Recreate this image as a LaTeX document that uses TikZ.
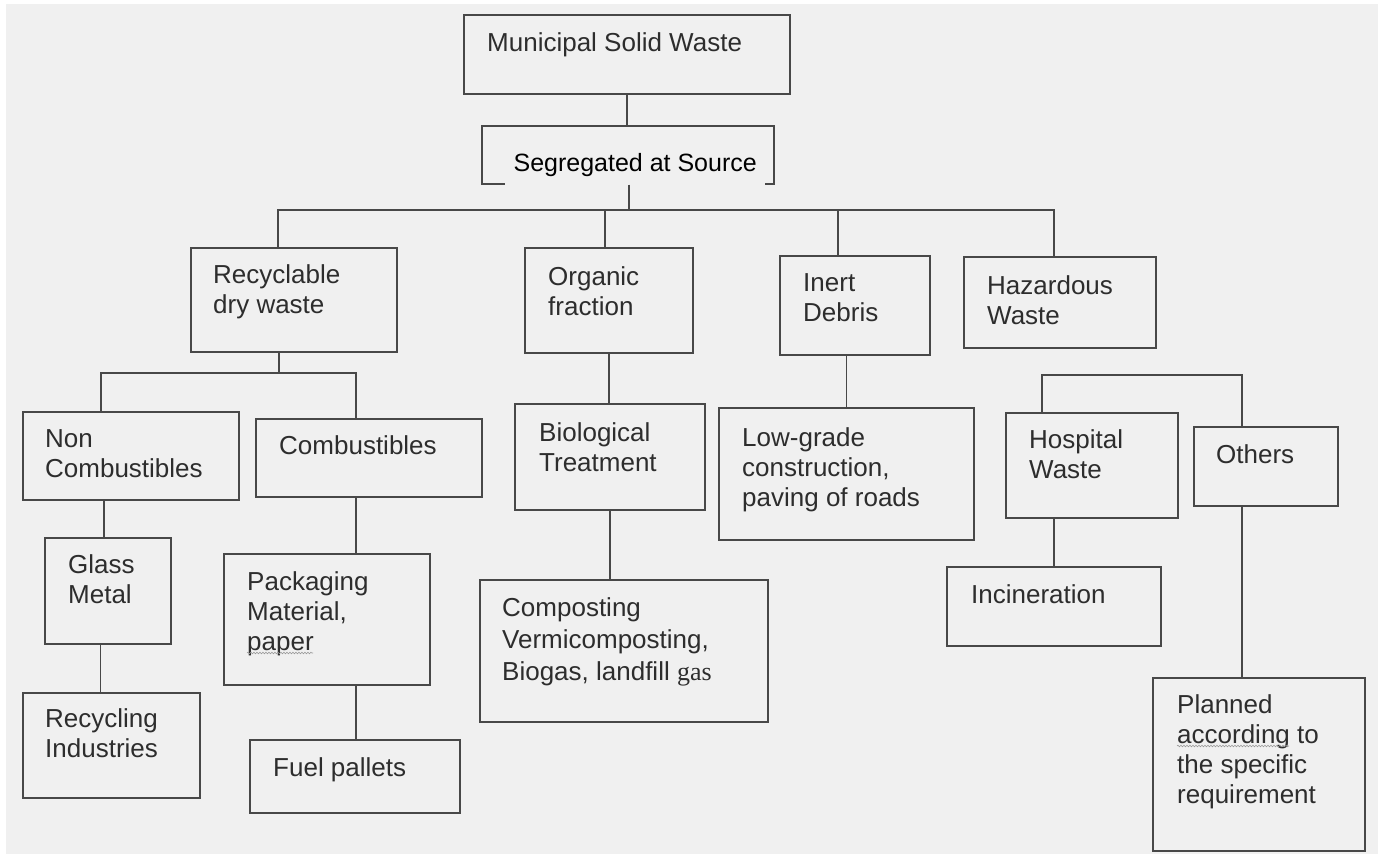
\documentclass[tikz,border=0pt]{standalone}
\usepackage{fontspec}
\usepackage{xcolor}
\usetikzlibrary{decorations.pathmorphing}
\setmainfont{Liberation Sans}
\newfontfamily\timesgas{Liberation Serif}
\definecolor{bgcol}{RGB}{240,240,240}
\definecolor{linecol}{RGB}{72,72,72}
\definecolor{textcol}{RGB}{45,45,45}
\tikzset{
    waste-box/.style = {draw=linecol, line width=1.6pt, rectangle, anchor=north west, inner sep=0pt},
    waste-text/.style = {anchor=north west, inner sep=0pt, align=left, text=textcol, font=\fontsize{26}{30}\selectfont},
    waste-line/.style = {draw=linecol, line width=1.6pt},
    spell-wave/.style = {draw=gray!80, line width=0.6pt, decorate, decoration={snake, segment length=3pt, amplitude=0.8pt}},
}

\begin{document}
\begin{tikzpicture}[x=1pt, y=-1pt]
\useasboundingbox (0,0) rectangle (1382,854);
\fill[white] (0,0) rectangle (1382,854);
\fill[bgcol] (6,4) rectangle (1378,854);

% top of the tree
\node[waste-box, minimum width=326pt, minimum height=79pt] (msw) at (463,14) {};
\node[waste-text] (msw-t) at ([shift={(24pt,-18pt)}]msw.north west) {Municipal Solid Waste};
\node[waste-box, minimum width=292pt, minimum height=58pt] (seg) at (481,125) {};
\node[anchor=south west, fill=bgcol, inner sep=0pt, minimum width=260pt, minimum height=40pt, font=\fontsize{25}{30}\selectfont] (seg-t) at ([shift={(24pt,-1pt)}]seg.south west) {Segregated at Source};

% second level
\node[waste-box, minimum width=206pt, minimum height=104pt] (rec) at (190,247) {};
\node[waste-text] (rec-t) at ([shift={(23pt,-17pt)}]rec.north west) {Recyclable\\dry waste};
\node[waste-box, minimum width=168pt, minimum height=105pt] (org) at (524,247) {};
\node[waste-text] (org-t) at ([shift={(24pt,-19pt)}]org.north west) {Organic\\fraction};
\node[waste-box, minimum width=150pt, minimum height=99pt] (inert) at (779,255) {};
\node[waste-text] (inert-t) at ([shift={(24pt,-18pt)}]inert.north west) {Inert\\Debris};
\node[waste-box, minimum width=192pt, minimum height=91pt] (haz) at (963,256) {};
\node[waste-text] (haz-t) at ([shift={(24pt,-19pt)}]haz.north west) {Hazardous\\Waste};

% recyclable branch
\node[waste-box, minimum width=216pt, minimum height=88pt] (noncomb) at (22,411) {};
\node[waste-text] (noncomb-t) at ([shift={(23pt,-18pt)}]noncomb.north west) {Non\\Combustibles};
\node[waste-box, minimum width=226pt, minimum height=78pt] (comb) at (255,418) {};
\node[waste-text] (comb-t) at ([shift={(24pt,-17pt)}]comb.north west) {Combustibles};
\node[waste-box, minimum width=126pt, minimum height=106pt] (glass) at (44,537) {};
\node[waste-text] (glass-t) at ([shift={(24pt,-17pt)}]glass.north west) {Glass\\Metal};
\node[waste-box, minimum width=177pt, minimum height=105pt] (recind) at (22,692) {};
\node[waste-text] (recind-t) at ([shift={(23pt,-16pt)}]recind.north west) {Recycling\\Industries};
\node[waste-box, minimum width=206pt, minimum height=131pt] (pack) at (223,553) {};
\node[waste-text] (pack-t) at ([shift={(24pt,-18pt)}]pack.north west) {Packaging\\Material,\\paper};
\node[waste-box, minimum width=210pt, minimum height=73pt] (fuel) at (249,739) {};
\node[waste-text] (fuel-t) at ([shift={(24pt,-18pt)}]fuel.north west) {Fuel pallets};

% organic and inert branches
\node[waste-box, minimum width=190pt, minimum height=106pt] (bio) at (514,403) {};
\node[waste-text] (bio-t) at ([shift={(25pt,-19pt)}]bio.north west) {Biological\\Treatment};
\node[waste-box, minimum width=288pt, minimum height=142pt] (compost) at (479,579) {};
\node[waste-text, font=\fontsize{26}{32}\selectfont] (compost-t) at ([shift={(23pt,-18pt)}]compost.north west) {Composting\\Vermicomposting,\\Biogas, landfill {\timesgas gas}};
\node[waste-box, minimum width=255pt, minimum height=132pt] (lowgrade) at (718,407) {};
\node[waste-text] (lowgrade-t) at ([shift={(24pt,-20pt)}]lowgrade.north west) {Low-grade\\construction,\\paving of roads};

% hazardous branch
\node[waste-box, minimum width=172pt, minimum height=105pt] (hosp) at (1005,412) {};
\node[waste-text] (hosp-t) at ([shift={(24pt,-17pt)}]hosp.north west) {Hospital\\Waste};
\node[waste-box, minimum width=144pt, minimum height=79pt] (others) at (1193,426) {};
\node[waste-text] (others-t) at ([shift={(23pt,-18pt)}]others.north west) {Others};
\node[waste-box, minimum width=214pt, minimum height=79pt] (incin) at (946,566) {};
\node[waste-text] (incin-t) at ([shift={(25pt,-18pt)}]incin.north west) {Incineration};
\node[waste-box, minimum width=212pt, minimum height=173pt] (planned) at (1152,677) {};
\node[waste-text] (planned-t) at ([shift={(25pt,-17pt)}]planned.north west) {Planned\\according to\\the specific\\requirement};

% spell-check marks
\draw[spell-wave] ([shift={(0pt,-82pt)}]pack-t.north west) -- ++(66,0);
\draw[spell-wave] ([shift={(0pt,-52pt)}]planned-t.north west) -- ++(112,0);

% junction points
\coordinate (j0) at (629,210);
\coordinate (j1) at (278,210);
\coordinate (j2) at (605,210);
\coordinate (j3) at (838,210);
\coordinate (j4) at (1054,210);
\coordinate (k0) at (279,373);
\coordinate (k1) at (101,373);
\coordinate (k2) at (356,373);
\coordinate (h1) at (1042,375);
\coordinate (h2) at (1242,375);

% connectors
\draw[waste-line] (msw.south) -- (msw.south |- seg.north);
\draw[waste-line] (j0 |- seg.south) -- (j0);
\draw[waste-line] (j1 |- rec.north) -- (j1) -- (j4) -- (j4 |- haz.north);
\draw[waste-line] (j2) -- (j2 |- org.north);
\draw[waste-line] (j3) -- (j3 |- inert.north);
\draw[waste-line] (k0 |- rec.south) -- (k0);
\draw[waste-line] (k1 |- noncomb.north) -- (k1) -- (k2) -- (k2 |- comb.north);
\draw[waste-line] ([xshift=-4pt]glass.north) -- ([xshift=-4pt]glass.north |- noncomb.south);
\draw[waste-line] ([xshift=-11pt]recind.north) -- ([xshift=-11pt]recind.north |- glass.south);
\draw[waste-line] (k2 |- comb.south) -- (k2 |- pack.north);
\draw[waste-line] (k2 |- pack.south) -- (k2 |- fuel.north);
\draw[waste-line] (org.south) -- (org.south |- bio.north);
\draw[waste-line] (bio.south) -- (bio.south |- compost.north);
\draw[waste-line] (lowgrade.north) -- (lowgrade.north |- inert.south);
\draw[waste-line] (h1 |- hosp.north) -- (h1) -- (h2) -- (h2 |- others.north);
\draw[waste-line] (incin.north) -- (incin.north |- hosp.south);
\draw[waste-line] (h2 |- others.south) -- (h2 |- planned.north);
\end{tikzpicture}
\end{document}
